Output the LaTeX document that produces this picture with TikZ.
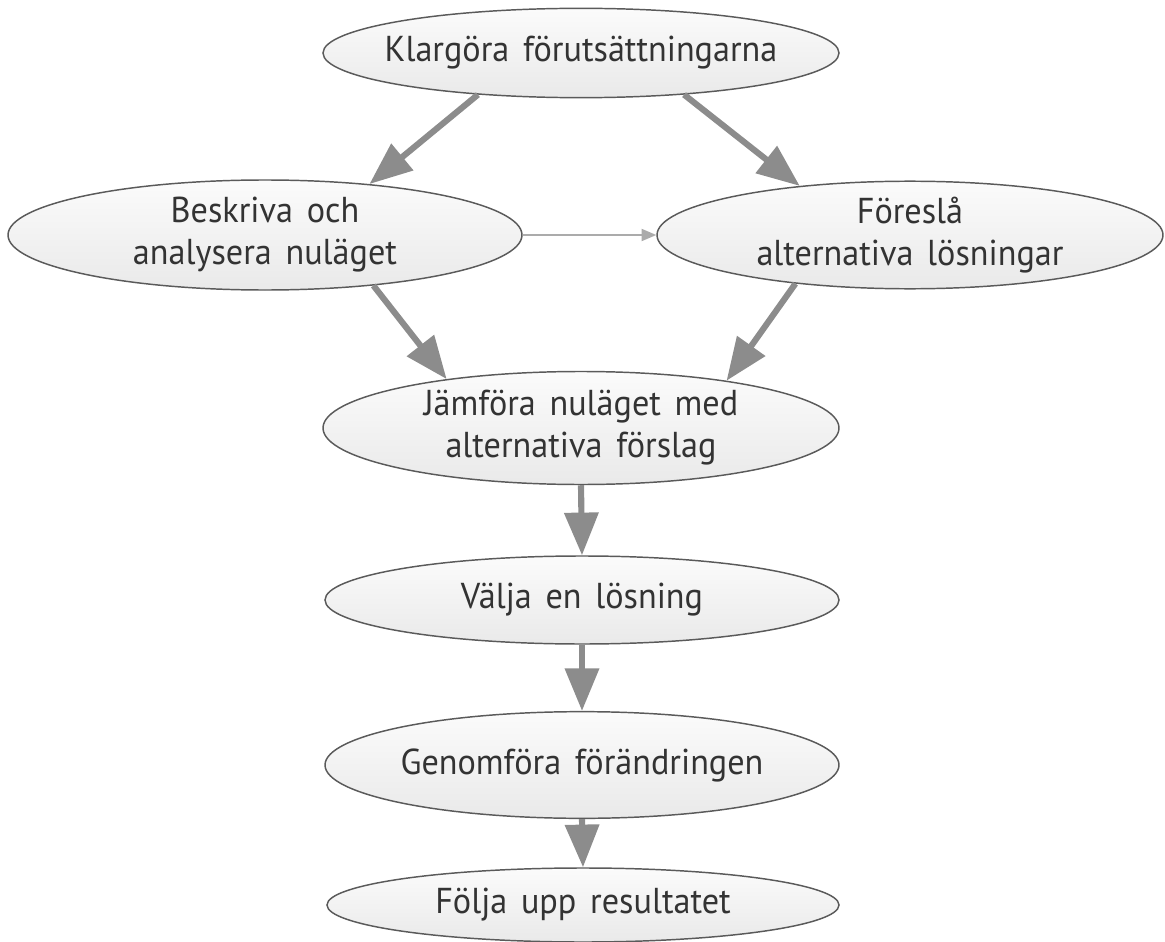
\documentclass[tikz,border=0pt]{standalone}
\usepackage{fontspec}
\setmainfont{PT Sans}[FakeStretch=0.95,WordSpace=1.5]
\usetikzlibrary{shapes.geometric,arrows.meta}
\definecolor{rim}{HTML}{5A5A5A}
\definecolor{ink}{HTML}{333333}
\definecolor{shaft}{HTML}{8C8C8C}
\definecolor{thinline}{HTML}{ABABAB}
\tikzset{
  stage/.style={ellipse, draw=rim, line width=1.1pt, top color=gray!3, bottom color=gray!17,
    text=ink, inner xsep=-20pt, inner ysep=0pt, align=center, font=\fontsize{27}{31.5}\selectfont},
  flow/.style={draw=shaft, line width=4.6pt, -{Triangle[length=32pt,width=25pt]}},
  link/.style={draw=thinline, line width=1.4pt, -{Triangle[length=11pt,width=9pt]}},
}

\begin{document}
\begin{tikzpicture}[x=0.75pt,y=-0.75pt]
\useasboundingbox (0,0) rectangle (1165,942);
\node[stage, minimum width=387pt, minimum height=67pt] (klar) at (581,53) {Klargöra förutsättningarna};
\node[stage, minimum width=385.5pt, minimum height=82.5pt] (besk) at (265,235) {Beskriva och\\analysera nuläget};
\node[stage, minimum width=379.5pt, minimum height=80pt] (fore) at (910,235) {Föreslå\\alternativa lösningar};
\node[stage, minimum width=387pt, minimum height=84.75pt] (jamf) at (581,428) {Jämföra nuläget med\\alternativa förslag};
\node[stage, minimum width=385.5pt, minimum height=66pt] (valja) at (582,600) {Välja en lösning};
\node[stage, minimum width=385.5pt, minimum height=80pt] (genom) at (582,765) {Genomföra förändringen};
\node[stage, minimum width=384pt, minimum height=55.5pt] (folja) at (583,905) {Följa upp resultatet};
\draw[flow] (klar.202.9) -- (besk.26.6);
\draw[flow] (klar.338.7) -- (fore.156.4);
\draw[link] (besk.east) -- (fore.west);
\draw[flow] (besk.335) -- (jamf.160);
\draw[flow] (fore.203.2) -- (jamf.18.9);
\draw[flow] (jamf.south) -- (valja.north);
\draw[flow] (valja.south) -- (genom.north);
\draw[flow] (genom.south) -- (folja.north);
\end{tikzpicture}
\end{document}
